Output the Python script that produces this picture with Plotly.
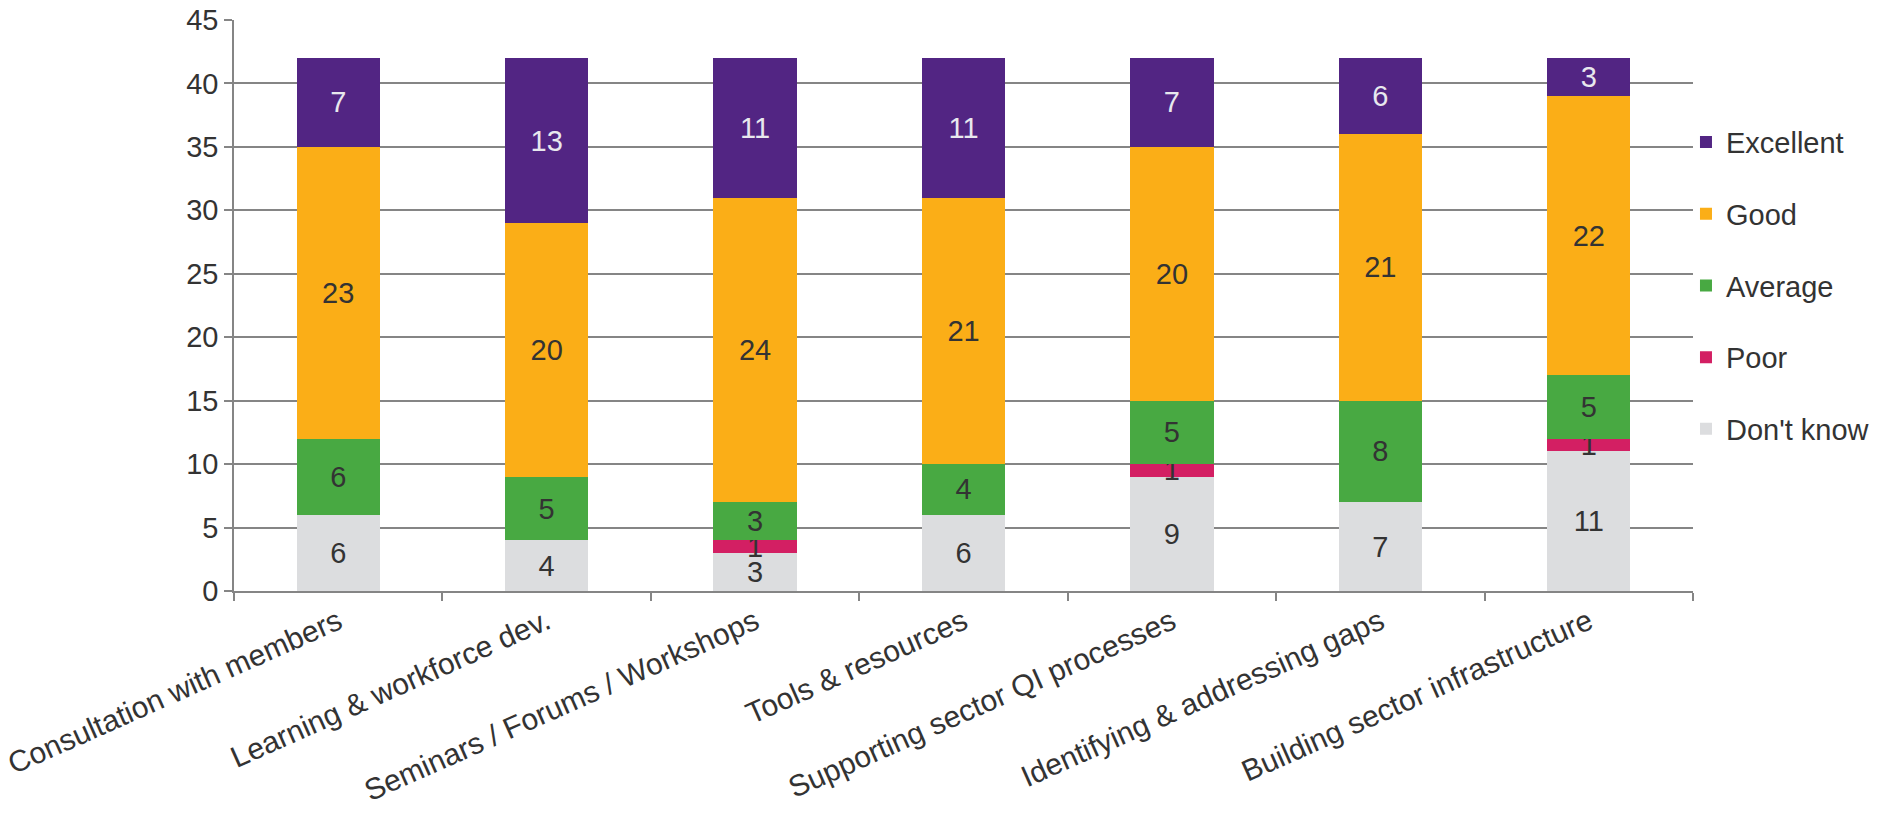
import plotly.graph_objects as go

categories = [
    "Consultation with members",
    "Learning & workforce dev.",
    "Seminars / Forums / Workshops",
    "Tools & resources",
    "Supporting sector QI processes",
    "Identifying & addressing gaps",
    "Building sector infrastructure",
]

dont_know = [6, 4, 3, 6, 9, 7, 11]
poor = [0, 0, 1, 0, 1, 0, 1]
average = [6, 5, 3, 4, 5, 8, 5]
good = [23, 20, 24, 21, 20, 21, 22]
excellent = [7, 13, 11, 11, 7, 6, 3]

y_ticks = [0, 5, 10, 15, 20, 25, 30, 35, 40, 45]

FONT = "Arial, Liberation Sans, sans-serif"
TEXT = "#333333"
GRID = "#858585"

# stacked bottom-to-top; legend lists them top-to-bottom (rank)
series = [
    ("Don't know", dont_know, "#DCDDDF", TEXT, 5),
    ("Poor", poor, "#D31F63", TEXT, 4),
    ("Average", average, "#48A942", TEXT, 3),
    ("Good", good, "#FBAE17", TEXT, 2),
    ("Excellent", excellent, "#522583", "#E8E8EE", 1),
]

fig = go.Figure()
for name, vals, color, tcolor, rank in series:
    fig.add_trace(go.Bar(
        x=categories,
        y=vals,
        name=name,
        legendgroup=name,
        legendrank=rank,
        marker=dict(color=color, line=dict(width=0)),
        text=[str(v) if v else "" for v in vals],
        textposition="inside",
        insidetextanchor="middle",
        textangle=0,
        constraintext="none",
        textfont=dict(family=FONT, size=29, color=tcolor),
        hoverinfo="skip",
    ))

fig.update_layout(
    width=1888,
    height=814,
    barmode="stack",
    bargap=0.6,
    plot_bgcolor="white",
    paper_bgcolor="white",
    font=dict(family=FONT, size=29, color=TEXT),
    margin=dict(l=234, r=195, t=20, b=223, autoexpand=False),
    showlegend=True,
    legend=dict(
        traceorder="grouped",
        tracegroupgap=31,
        xref="container", yref="container",
        x=0.893, xanchor="left",
        y=0.649, yanchor="middle",
        font=dict(family=FONT, size=29, color=TEXT),
        bgcolor="rgba(0,0,0,0)",
    ),
)

fig.update_yaxes(
    range=[0, 45],
    tickvals=y_ticks,
    showgrid=True,
    gridcolor=GRID,
    gridwidth=1.5,
    zeroline=False,
    showline=True,
    linecolor=GRID,
    linewidth=1.5,
    ticks="outside",
    ticklen=8,
    tickcolor=GRID,
    tickwidth=1.5,
    tickfont=dict(family=FONT, size=29, color=TEXT),
    fixedrange=True,
)

fig.update_xaxes(
    showline=True,
    linecolor=GRID,
    linewidth=1.5,
    ticks="outside",
    tickson="boundaries",
    ticklen=8,
    tickcolor=GRID,
    tickwidth=1.5,
    tickangle=-24,
    tickfont=dict(family=FONT, size=30, color=TEXT),
    showgrid=False,
    fixedrange=True,
)

fig.write_html("out.html")
